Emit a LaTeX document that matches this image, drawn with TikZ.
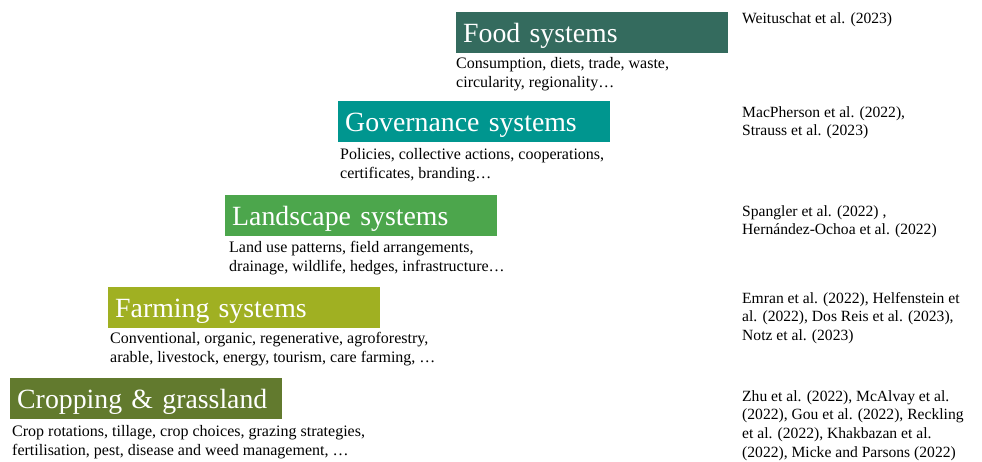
\documentclass[tikz,border=0pt]{standalone}
\usepackage{fontspec}
\setmainfont{Liberation Serif}
\usepackage{xcolor}
\usetikzlibrary{positioning,calc}

\definecolor{foodcol}{RGB}{52,107,94}
\definecolor{govcol}{RGB}{0,150,143}
\definecolor{landcol}{RGB}{76,166,76}
\definecolor{farmcol}{RGB}{160,176,34}
\definecolor{cropcol}{RGB}{98,122,46}

\tikzset{
    sysbox/.style={anchor=north west, text=white, align=left,
        font=\fontsize{27.8}{30}\selectfont,
        minimum width=272pt, text width=258pt,
        inner xsep=7pt, inner ysep=0pt, text height=30pt, text depth=11pt},
    desc/.style={anchor=north west, inner sep=0pt, align=left,
        font=\fontsize{16}{19}\selectfont},
    refs/.style={anchor=north west, inner sep=0pt, align=left,
        font=\fontsize{15.6}{18.7}\selectfont}
}

\begin{document}
\begin{tikzpicture}[x=1pt,y=-1pt]
    \useasboundingbox (0,0) rectangle (982,461);

    % Levels
    \node[sysbox, fill=foodcol] (food) at (456,12) {Food systems};
    \node[sysbox, fill=govcol] (gov) at (338,101) {Governance systems};
    \node[sysbox, fill=landcol] (land) at (225,195) {Landscape systems};
    \node[sysbox, fill=farmcol] (farm) at (108,287) {Farming systems};
    \node[sysbox, fill=cropcol] (crop) at (10,378) {Cropping \& grassland};

    % Descriptions
    \node[desc] (fooddesc) at ([shift={(0pt,-4pt)}]food.south west)
        {Consumption, diets, trade, waste,\\circularity, regionality…};
    \node[desc] (govdesc) at ([shift={(2pt,-6pt)}]gov.south west)
        {Policies, collective actions, cooperations,\\certificates, branding…};
    \node[desc] (landdesc) at ([shift={(4pt,-5pt)}]land.south west)
        {Land use patterns, field arrangements,\\drainage, wildlife, hedges, infrastructure…};
    \node[desc] (farmdesc) at ([shift={(2pt,-4pt)}]farm.south west)
        {Conventional, organic, regenerative, agroforestry,\\arable, livestock, energy, tourism, care farming, …};
    \node[desc] (cropdesc) at ([shift={(2pt,-6pt)}]crop.south west)
        {Crop rotations, tillage, crop choices, grazing strategies,\\fertilisation, pest, disease and weed management, …};

    % References
    \node[refs] (foodrefs) at (742,12) {Weituschat et al. (2023)};
    \node[refs] (govrefs) at (742,106)
        {MacPherson et al. (2022),\\Strauss et al. (2023)};
    \node[refs] (landrefs) at (742,205)
        {Spangler et al. (2022) ,\\Hernández-Ochoa et al. (2022)};
    \node[refs] (farmrefs) at (742,292)
        {Emran et al. (2022), Helfenstein et\\al. (2022), Dos Reis et al. (2023),\\Notz et al. (2023)};
    \node[refs] (croprefs) at (742,390)
        {Zhu et al. (2022), McAlvay et al.\\(2022), Gou et al. (2022), Reckling\\et al. (2022), Khakbazan et al.\\(2022), Micke and Parsons (2022)};
\end{tikzpicture}
\end{document}
